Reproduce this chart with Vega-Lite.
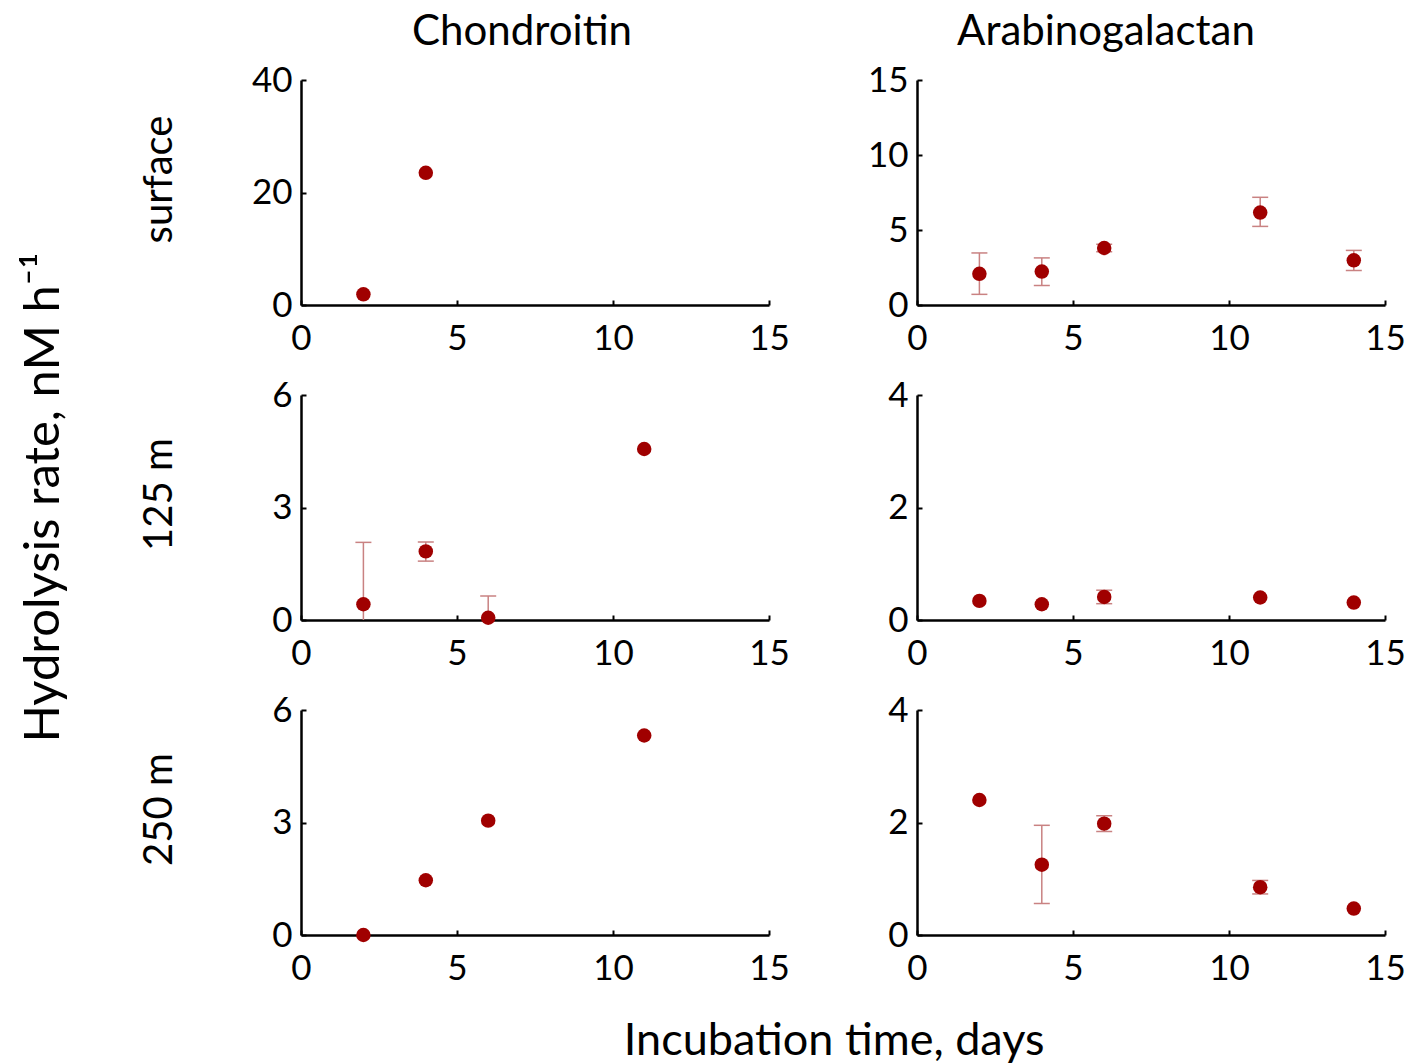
{
  "$schema": "https://vega.github.io/schema/vega-lite/v6.json",
  "background": "#ffffff",
  "padding": {"left": 20, "top": 11, "right": 2, "bottom": 2},
  "config": {
    "font": "Lato",
    "view": {"stroke": null},
    "axis": {
      "grid": false,
      "domainColor": "#000000",
      "domainWidth": 2.5,
      "tickColor": "#000000",
      "tickWidth": 2,
      "tickSize": -5,
      "labelFont": "Lato",
      "labelFontSize": 35,
      "labelColor": "#000000",
      "labelFlush": false,
      "labelOverlap": false,
      "titleFont": "Lato",
      "titleFontSize": 40,
      "titleFontWeight": "normal",
      "titleColor": "#000000"
    },
    "axisX": {"labelPadding": 21},
    "axisY": {"labelPadding": 14, "titleAngle": 270, "titleX": -130, "titleY": 99, "titleBaseline": "alphabetic", "titleAlign": "center"},
    "title": {"font": "Lato", "fontSize": 42, "fontWeight": "normal", "color": "#000000"}
  },
  "datasets": {
    "rates": [
      {"poly": "Chondroitin", "depth": "surface", "day": 2, "rate": 1.9, "lo": null, "hi": null},
      {"poly": "Chondroitin", "depth": "surface", "day": 4, "rate": 23.5, "lo": null, "hi": null},
      {"poly": "Chondroitin", "depth": "125 m", "day": 2, "rate": 0.42, "lo": 0, "hi": 2.07},
      {"poly": "Chondroitin", "depth": "125 m", "day": 4, "rate": 1.83, "lo": 1.57, "hi": 2.08},
      {"poly": "Chondroitin", "depth": "125 m", "day": 6, "rate": 0.06, "lo": 0, "hi": 0.64},
      {"poly": "Chondroitin", "depth": "125 m", "day": 11, "rate": 4.56, "lo": null, "hi": null},
      {"poly": "Chondroitin", "depth": "250 m", "day": 2, "rate": 0.0, "lo": null, "hi": null},
      {"poly": "Chondroitin", "depth": "250 m", "day": 4, "rate": 1.46, "lo": null, "hi": null},
      {"poly": "Chondroitin", "depth": "250 m", "day": 6, "rate": 3.05, "lo": null, "hi": null},
      {"poly": "Chondroitin", "depth": "250 m", "day": 11, "rate": 5.32, "lo": null, "hi": null},
      {"poly": "Arabinogalactan", "depth": "surface", "day": 2, "rate": 2.08, "lo": 0.71, "hi": 3.47},
      {"poly": "Arabinogalactan", "depth": "surface", "day": 4, "rate": 2.23, "lo": 1.3, "hi": 3.14},
      {"poly": "Arabinogalactan", "depth": "surface", "day": 6, "rate": 3.8, "lo": 3.55, "hi": 4.05},
      {"poly": "Arabinogalactan", "depth": "surface", "day": 11, "rate": 6.16, "lo": 5.24, "hi": 7.18},
      {"poly": "Arabinogalactan", "depth": "surface", "day": 14, "rate": 2.98, "lo": 2.3, "hi": 3.64},
      {"poly": "Arabinogalactan", "depth": "125 m", "day": 2, "rate": 0.34, "lo": null, "hi": null},
      {"poly": "Arabinogalactan", "depth": "125 m", "day": 4, "rate": 0.28, "lo": null, "hi": null},
      {"poly": "Arabinogalactan", "depth": "125 m", "day": 6, "rate": 0.41, "lo": 0.29, "hi": 0.53},
      {"poly": "Arabinogalactan", "depth": "125 m", "day": 11, "rate": 0.4, "lo": null, "hi": null},
      {"poly": "Arabinogalactan", "depth": "125 m", "day": 14, "rate": 0.31, "lo": null, "hi": null},
      {"poly": "Arabinogalactan", "depth": "250 m", "day": 2, "rate": 2.4, "lo": null, "hi": null},
      {"poly": "Arabinogalactan", "depth": "250 m", "day": 4, "rate": 1.25, "lo": 0.56, "hi": 1.95},
      {"poly": "Arabinogalactan", "depth": "250 m", "day": 6, "rate": 1.98, "lo": 1.84, "hi": 2.12},
      {"poly": "Arabinogalactan", "depth": "250 m", "day": 11, "rate": 0.85, "lo": 0.73, "hi": 0.97},
      {"poly": "Arabinogalactan", "depth": "250 m", "day": 14, "rate": 0.47, "lo": null, "hi": null}
    ]
  },
  "data": {"name": "rates"},
  "title": {"text": "Hydrolysis rate, nM h⁻¹", "orient": "left", "anchor": "middle", "frame": "bounds", "fontSize": 49, "offset": 70, "dx": 40},
  "vconcat": [
    {
      "title": {"text": "Incubation time, days", "orient": "bottom", "anchor": "middle", "frame": "bounds", "fontSize": 45, "offset": 33, "dx": 62},
      "columns": 2,
      "spacing": {"row": 90, "column": 148},
      "bounds": "flush",
      "concat": [
        {
          "width": 468, "height": 225,
          "title": {"text": "Chondroitin", "frame": "group", "dx": -13, "offset": 9},
          "transform": [{"filter": "datum.poly === 'Chondroitin' && datum.depth === 'surface'"}],
          "layer": [
            {"mark": {"type": "rule", "color": "#c98282", "strokeWidth": 1.5},
             "encoding": {"x": {"field": "day", "type": "quantitative", "scale": {"domain": [0, 15], "nice": false}, "axis": {"values": [0, 5, 10, 15]}, "title": null},
                          "y": {"field": "lo", "type": "quantitative", "scale": {"domain": [0, 40], "nice": false}, "axis": {"values": [0, 20, 40]}, "title": "surface"},
                          "y2": {"field": "hi"}}},
            {"mark": {"type": "point", "shape": "M-1,0L1,0", "filled": false, "color": "#c98282", "strokeWidth": 1.5, "size": 256, "opacity": 1},
             "encoding": {"x": {"field": "day", "type": "quantitative", "scale": {"domain": [0, 15], "nice": false}, "axis": {"values": [0, 5, 10, 15]}, "title": null},
                          "y": {"field": "hi", "type": "quantitative", "scale": {"domain": [0, 40], "nice": false}, "axis": {"values": [0, 20, 40]}, "title": "surface"}}},
            {"transform": [{"filter": "datum.lo > 0"}],
             "mark": {"type": "point", "shape": "M-1,0L1,0", "filled": false, "color": "#c98282", "strokeWidth": 1.5, "size": 256, "opacity": 1},
             "encoding": {"x": {"field": "day", "type": "quantitative", "scale": {"domain": [0, 15], "nice": false}, "axis": {"values": [0, 5, 10, 15]}, "title": null},
                          "y": {"field": "lo", "type": "quantitative", "scale": {"domain": [0, 40], "nice": false}, "axis": {"values": [0, 20, 40]}, "title": "surface"}}},
            {"mark": {"type": "circle", "color": "#a00000", "size": 210, "opacity": 1},
             "encoding": {"x": {"field": "day", "type": "quantitative", "scale": {"domain": [0, 15], "nice": false}, "axis": {"values": [0, 5, 10, 15]}, "title": null},
                          "y": {"field": "rate", "type": "quantitative", "scale": {"domain": [0, 40], "nice": false}, "axis": {"values": [0, 20, 40]}, "title": "surface"}}}
          ]
        },
        {
          "width": 468, "height": 225,
          "title": {"text": "Arabinogalactan", "frame": "group", "dx": -45, "offset": 9},
          "transform": [{"filter": "datum.poly === 'Arabinogalactan' && datum.depth === 'surface'"}],
          "layer": [
            {"mark": {"type": "rule", "color": "#c98282", "strokeWidth": 1.5},
             "encoding": {"x": {"field": "day", "type": "quantitative", "scale": {"domain": [0, 15], "nice": false}, "axis": {"values": [0, 5, 10, 15]}, "title": null},
                          "y": {"field": "lo", "type": "quantitative", "scale": {"domain": [0, 15], "nice": false}, "axis": {"values": [0, 5, 10, 15]}, "title": null},
                          "y2": {"field": "hi"}}},
            {"mark": {"type": "point", "shape": "M-1,0L1,0", "filled": false, "color": "#c98282", "strokeWidth": 1.5, "size": 256, "opacity": 1},
             "encoding": {"x": {"field": "day", "type": "quantitative", "scale": {"domain": [0, 15], "nice": false}, "axis": {"values": [0, 5, 10, 15]}, "title": null},
                          "y": {"field": "hi", "type": "quantitative", "scale": {"domain": [0, 15], "nice": false}, "axis": {"values": [0, 5, 10, 15]}, "title": null}}},
            {"transform": [{"filter": "datum.lo > 0"}],
             "mark": {"type": "point", "shape": "M-1,0L1,0", "filled": false, "color": "#c98282", "strokeWidth": 1.5, "size": 256, "opacity": 1},
             "encoding": {"x": {"field": "day", "type": "quantitative", "scale": {"domain": [0, 15], "nice": false}, "axis": {"values": [0, 5, 10, 15]}, "title": null},
                          "y": {"field": "lo", "type": "quantitative", "scale": {"domain": [0, 15], "nice": false}, "axis": {"values": [0, 5, 10, 15]}, "title": null}}},
            {"mark": {"type": "circle", "color": "#a00000", "size": 210, "opacity": 1},
             "encoding": {"x": {"field": "day", "type": "quantitative", "scale": {"domain": [0, 15], "nice": false}, "axis": {"values": [0, 5, 10, 15]}, "title": null},
                          "y": {"field": "rate", "type": "quantitative", "scale": {"domain": [0, 15], "nice": false}, "axis": {"values": [0, 5, 10, 15]}, "title": null}}}
          ]
        },
        {
          "width": 468, "height": 225,
          "transform": [{"filter": "datum.poly === 'Chondroitin' && datum.depth === '125 m'"}],
          "layer": [
            {"mark": {"type": "rule", "color": "#c98282", "strokeWidth": 1.5},
             "encoding": {"x": {"field": "day", "type": "quantitative", "scale": {"domain": [0, 15], "nice": false}, "axis": {"values": [0, 5, 10, 15]}, "title": null},
                          "y": {"field": "lo", "type": "quantitative", "scale": {"domain": [0, 6], "nice": false}, "axis": {"values": [0, 3, 6]}, "title": "125 m"},
                          "y2": {"field": "hi"}}},
            {"mark": {"type": "point", "shape": "M-1,0L1,0", "filled": false, "color": "#c98282", "strokeWidth": 1.5, "size": 256, "opacity": 1},
             "encoding": {"x": {"field": "day", "type": "quantitative", "scale": {"domain": [0, 15], "nice": false}, "axis": {"values": [0, 5, 10, 15]}, "title": null},
                          "y": {"field": "hi", "type": "quantitative", "scale": {"domain": [0, 6], "nice": false}, "axis": {"values": [0, 3, 6]}, "title": "125 m"}}},
            {"transform": [{"filter": "datum.lo > 0"}],
             "mark": {"type": "point", "shape": "M-1,0L1,0", "filled": false, "color": "#c98282", "strokeWidth": 1.5, "size": 256, "opacity": 1},
             "encoding": {"x": {"field": "day", "type": "quantitative", "scale": {"domain": [0, 15], "nice": false}, "axis": {"values": [0, 5, 10, 15]}, "title": null},
                          "y": {"field": "lo", "type": "quantitative", "scale": {"domain": [0, 6], "nice": false}, "axis": {"values": [0, 3, 6]}, "title": "125 m"}}},
            {"mark": {"type": "circle", "color": "#a00000", "size": 210, "opacity": 1},
             "encoding": {"x": {"field": "day", "type": "quantitative", "scale": {"domain": [0, 15], "nice": false}, "axis": {"values": [0, 5, 10, 15]}, "title": null},
                          "y": {"field": "rate", "type": "quantitative", "scale": {"domain": [0, 6], "nice": false}, "axis": {"values": [0, 3, 6]}, "title": "125 m"}}}
          ]
        },
        {
          "width": 468, "height": 225,
          "transform": [{"filter": "datum.poly === 'Arabinogalactan' && datum.depth === '125 m'"}],
          "layer": [
            {"mark": {"type": "rule", "color": "#c98282", "strokeWidth": 1.5},
             "encoding": {"x": {"field": "day", "type": "quantitative", "scale": {"domain": [0, 15], "nice": false}, "axis": {"values": [0, 5, 10, 15]}, "title": null},
                          "y": {"field": "lo", "type": "quantitative", "scale": {"domain": [0, 4], "nice": false}, "axis": {"values": [0, 2, 4]}, "title": null},
                          "y2": {"field": "hi"}}},
            {"mark": {"type": "point", "shape": "M-1,0L1,0", "filled": false, "color": "#c98282", "strokeWidth": 1.5, "size": 256, "opacity": 1},
             "encoding": {"x": {"field": "day", "type": "quantitative", "scale": {"domain": [0, 15], "nice": false}, "axis": {"values": [0, 5, 10, 15]}, "title": null},
                          "y": {"field": "hi", "type": "quantitative", "scale": {"domain": [0, 4], "nice": false}, "axis": {"values": [0, 2, 4]}, "title": null}}},
            {"transform": [{"filter": "datum.lo > 0"}],
             "mark": {"type": "point", "shape": "M-1,0L1,0", "filled": false, "color": "#c98282", "strokeWidth": 1.5, "size": 256, "opacity": 1},
             "encoding": {"x": {"field": "day", "type": "quantitative", "scale": {"domain": [0, 15], "nice": false}, "axis": {"values": [0, 5, 10, 15]}, "title": null},
                          "y": {"field": "lo", "type": "quantitative", "scale": {"domain": [0, 4], "nice": false}, "axis": {"values": [0, 2, 4]}, "title": null}}},
            {"mark": {"type": "circle", "color": "#a00000", "size": 210, "opacity": 1},
             "encoding": {"x": {"field": "day", "type": "quantitative", "scale": {"domain": [0, 15], "nice": false}, "axis": {"values": [0, 5, 10, 15]}, "title": null},
                          "y": {"field": "rate", "type": "quantitative", "scale": {"domain": [0, 4], "nice": false}, "axis": {"values": [0, 2, 4]}, "title": null}}}
          ]
        },
        {
          "width": 468, "height": 225,
          "transform": [{"filter": "datum.poly === 'Chondroitin' && datum.depth === '250 m'"}],
          "layer": [
            {"mark": {"type": "rule", "color": "#c98282", "strokeWidth": 1.5},
             "encoding": {"x": {"field": "day", "type": "quantitative", "scale": {"domain": [0, 15], "nice": false}, "axis": {"values": [0, 5, 10, 15]}, "title": null},
                          "y": {"field": "lo", "type": "quantitative", "scale": {"domain": [0, 6], "nice": false}, "axis": {"values": [0, 3, 6]}, "title": "250 m"},
                          "y2": {"field": "hi"}}},
            {"mark": {"type": "point", "shape": "M-1,0L1,0", "filled": false, "color": "#c98282", "strokeWidth": 1.5, "size": 256, "opacity": 1},
             "encoding": {"x": {"field": "day", "type": "quantitative", "scale": {"domain": [0, 15], "nice": false}, "axis": {"values": [0, 5, 10, 15]}, "title": null},
                          "y": {"field": "hi", "type": "quantitative", "scale": {"domain": [0, 6], "nice": false}, "axis": {"values": [0, 3, 6]}, "title": "250 m"}}},
            {"transform": [{"filter": "datum.lo > 0"}],
             "mark": {"type": "point", "shape": "M-1,0L1,0", "filled": false, "color": "#c98282", "strokeWidth": 1.5, "size": 256, "opacity": 1},
             "encoding": {"x": {"field": "day", "type": "quantitative", "scale": {"domain": [0, 15], "nice": false}, "axis": {"values": [0, 5, 10, 15]}, "title": null},
                          "y": {"field": "lo", "type": "quantitative", "scale": {"domain": [0, 6], "nice": false}, "axis": {"values": [0, 3, 6]}, "title": "250 m"}}},
            {"mark": {"type": "circle", "color": "#a00000", "size": 210, "opacity": 1},
             "encoding": {"x": {"field": "day", "type": "quantitative", "scale": {"domain": [0, 15], "nice": false}, "axis": {"values": [0, 5, 10, 15]}, "title": null},
                          "y": {"field": "rate", "type": "quantitative", "scale": {"domain": [0, 6], "nice": false}, "axis": {"values": [0, 3, 6]}, "title": "250 m"}}}
          ]
        },
        {
          "width": 468, "height": 225,
          "transform": [{"filter": "datum.poly === 'Arabinogalactan' && datum.depth === '250 m'"}],
          "layer": [
            {"mark": {"type": "rule", "color": "#c98282", "strokeWidth": 1.5},
             "encoding": {"x": {"field": "day", "type": "quantitative", "scale": {"domain": [0, 15], "nice": false}, "axis": {"values": [0, 5, 10, 15]}, "title": null},
                          "y": {"field": "lo", "type": "quantitative", "scale": {"domain": [0, 4], "nice": false}, "axis": {"values": [0, 2, 4]}, "title": null},
                          "y2": {"field": "hi"}}},
            {"mark": {"type": "point", "shape": "M-1,0L1,0", "filled": false, "color": "#c98282", "strokeWidth": 1.5, "size": 256, "opacity": 1},
             "encoding": {"x": {"field": "day", "type": "quantitative", "scale": {"domain": [0, 15], "nice": false}, "axis": {"values": [0, 5, 10, 15]}, "title": null},
                          "y": {"field": "hi", "type": "quantitative", "scale": {"domain": [0, 4], "nice": false}, "axis": {"values": [0, 2, 4]}, "title": null}}},
            {"transform": [{"filter": "datum.lo > 0"}],
             "mark": {"type": "point", "shape": "M-1,0L1,0", "filled": false, "color": "#c98282", "strokeWidth": 1.5, "size": 256, "opacity": 1},
             "encoding": {"x": {"field": "day", "type": "quantitative", "scale": {"domain": [0, 15], "nice": false}, "axis": {"values": [0, 5, 10, 15]}, "title": null},
                          "y": {"field": "lo", "type": "quantitative", "scale": {"domain": [0, 4], "nice": false}, "axis": {"values": [0, 2, 4]}, "title": null}}},
            {"mark": {"type": "circle", "color": "#a00000", "size": 210, "opacity": 1},
             "encoding": {"x": {"field": "day", "type": "quantitative", "scale": {"domain": [0, 15], "nice": false}, "axis": {"values": [0, 5, 10, 15]}, "title": null},
                          "y": {"field": "rate", "type": "quantitative", "scale": {"domain": [0, 4], "nice": false}, "axis": {"values": [0, 2, 4]}, "title": null}}}
          ]
        }
      ]
    }
  ]
}
